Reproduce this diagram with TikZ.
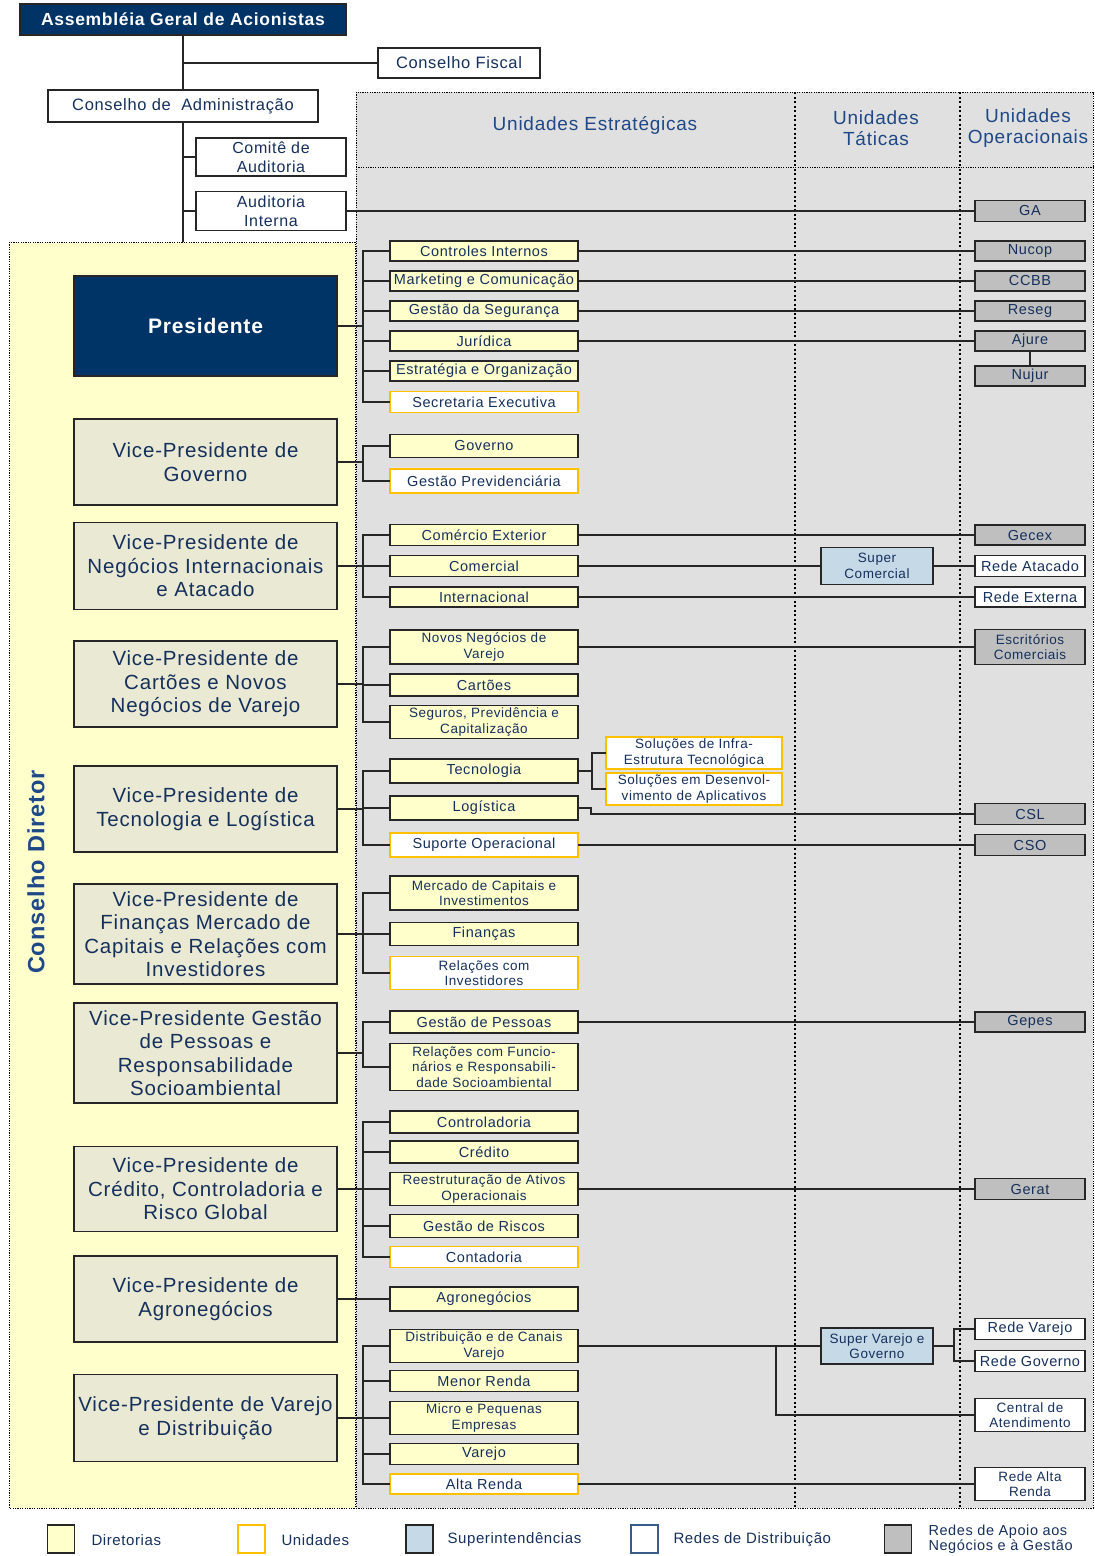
\documentclass[tikz,border=0pt]{standalone}
\usepackage{fontspec}
\setmainfont{Liberation Sans}[LetterSpace=4]
\definecolor{navy}{RGB}{0,51,102}
\definecolor{txtblue}{RGB}{22,48,92}
\definecolor{hdrblue}{RGB}{31,72,135}
\definecolor{dirfill}{RGB}{255,255,204}
\definecolor{regiongray}{RGB}{224,224,224}
\definecolor{vpfill}{RGB}{234,234,212}
\definecolor{unitorange}{RGB}{255,192,0}
\definecolor{superfill}{RGB}{197,217,230}
\definecolor{apoiogray}{RGB}{191,191,191}
\definecolor{edge}{RGB}{38,38,38}
\definecolor{redeblue}{RGB}{56,93,138}
\newcommand\setfs[2]{\fontsize{#1}{#2}\selectfont}
\begin{document}
\begin{tikzpicture}[x=1pt,y=-1pt,
  box/.style={draw=edge, line width=1.6pt, inner sep=0pt, outer sep=0pt, text=txtblue, align=center},
  plainbox/.style={box, fill=white, line width=1.4pt, font=\setfs{16.5}{19}},
  navybox/.style={box, fill=navy, text=white, line width=1.3pt},
  diret/.style={box, fill=dirfill, minimum width=188pt, font=\setfs{14.5}{16}},
  diret2/.style={diret, font=\setfs{13.5}{15.5}},
  unid/.style={diret, draw=unitorange, fill=white},
  unid2/.style={unid, font=\setfs{13.5}{15.5}},
  vpbox/.style={box, line width=1.3pt, fill=vpfill, minimum width=263pt, font=\setfs{20.5}{23.5}},
  apoio/.style={box, fill=apoiogray, minimum width=110pt, font=\setfs{14.5}{16}},
  apoio2/.style={apoio, font=\setfs{13.5}{15.5}},
  rede/.style={box, fill=white, minimum width=110pt, font=\setfs{14.5}{16}},
  rede2/.style={rede, font=\setfs{13.5}{15.5}},
  superbox/.style={box, fill=superfill, minimum width=112pt, font=\setfs{13.5}{15.5}},
  solbox/.style={unid, minimum width=176pt, font=\setfs{13.5}{15.5}},
  link/.style={draw=edge, line width=1.5pt},
  regionborder/.style={draw=black, line width=0.9pt, dash pattern=on 1.2pt off 1.2pt},
  colsep/.style={draw=black, line width=1.4pt, dash pattern=on 2pt off 2.5pt},
  header/.style={text=hdrblue, align=center, font=\setfs{19}{21}},
  legbox/.style={draw=edge, line width=1.8pt, minimum width=27pt, minimum height=28pt, inner sep=0pt},
  legtext/.style={anchor=west, text=txtblue, align=left, font=\setfs{15}{16}}
]
\useasboundingbox (0,0) rectangle (1095,1556);

% regions: strategic / tactical / operational units and the executive board
\fill[regiongray] (356,92) rectangle (1093,1508);
\fill[dirfill] (9,242) rectangle (355,1508);
\draw[regionborder] (356,92) rectangle (1093,1508);
\draw[regionborder] (9,242) rectangle (355,1508);
\draw[regionborder] (356,167) -- (1093,167);
\draw[colsep] (795,92) -- (795,1508);
\draw[colsep] (960,92) -- (960,1508);

\node[header] (hest) at (595,125) {Unidades Estratégicas};
\node[header] (htat) at (876,128) {Unidades\\Táticas};
\node[header] (hope) at (1028,128) {Unidades\\Operacionais};
\node[rotate=90, text=hdrblue, font=\setfs{23.5}{26}\bfseries] (cdir) at (36,872) {Conselho Diretor};

% governance
\node[navybox, minimum width=326pt, minimum height=31pt, font=\setfs{17.5}{20}\bfseries] (agm) at (183,19.5) {Assembléia Geral de Acionistas};
\node[plainbox, minimum width=162pt, minimum height=30pt] (cfis) at (459,63) {Conselho Fiscal};
\node[plainbox, minimum width=270pt, minimum height=32pt] (cadm) at (183,106) {Conselho de\ \ Administração};
\node[plainbox, minimum width=150pt, minimum height=38pt, font=\setfs{16}{19}] (comite) at (271,157) {Comitê de\\Auditoria};
\node[plainbox, minimum width=150pt, minimum height=39pt, font=\setfs{16}{19}] (audint) at (271,211) {Auditoria\\Interna};
\coordinate (dtop) at (183,242);

% presidency and vice-presidencies
\node[navybox, minimum width=263pt, minimum height=100pt, font=\setfs{21}{24}\bfseries] (pres) at (205.5,326) {Presidente};
\node[vpbox, minimum height=86pt] (vpgov) at (205.5,462) {Vice-Presidente de\\Governo};
\node[vpbox, minimum height=87pt] (vpint) at (205.5,566) {Vice-Presidente de\\Negócios Internacionais\\e Atacado};
\node[vpbox, minimum height=86pt] (vpcart) at (205.5,684) {Vice-Presidente de\\Cartões e Novos\\Negócios de Varejo};
\node[vpbox, minimum height=86pt] (vptec) at (205.5,809) {Vice-Presidente de\\Tecnologia e Logística};
\node[vpbox, minimum height=100pt] (vpfin) at (205.5,934) {Vice-Presidente de\\Finanças Mercado de\\Capitais e Relações com\\Investidores};
\node[vpbox, minimum height=100pt] (vpgp) at (205.5,1053) {Vice-Presidente Gestão\\de Pessoas e\\Responsabilidade\\Socioambiental};
\node[vpbox, minimum height=85pt] (vpcred) at (205.5,1189) {Vice-Presidente de\\Crédito, Controladoria e\\Risco Global};
\node[vpbox, minimum height=86pt] (vpagro) at (205.5,1299) {Vice-Presidente de\\Agronegócios};
\node[vpbox, minimum height=87pt] (vpvar) at (205.5,1418) {Vice-Presidente de Varejo\\e Distribuição};

% strategic units
\node[diret, minimum height=20pt] (ci) at (484,251) {Controles Internos};
\node[diret, minimum height=20pt] (mk) at (484,281) {Marketing e Comunicação};
\node[diret, minimum height=20pt] (gs) at (484,311) {Gestão da Segurança};
\node[diret, minimum height=20pt] (jur) at (484,341) {Jurídica};
\node[diret, minimum height=20pt] (eo) at (484,371) {Estratégia e Organização};
\node[unid, minimum height=21pt] (sec) at (484,402) {Secretaria Executiva};

\node[diret, minimum height=23pt] (gov) at (484,446) {Governo};
\node[unid, minimum height=24pt] (gprev) at (484,481) {Gestão Previdenciária};

\node[diret, minimum height=21pt] (comex) at (484,535) {Comércio Exterior};
\node[diret, minimum height=21pt] (com) at (484,566) {Comercial};
\node[diret, minimum height=20pt] (intl) at (484,597) {Internacional};

\node[diret2, minimum height=34pt] (nnv) at (484,647) {Novos Negócios de\\Varejo};
\node[diret, minimum height=22pt] (cart) at (484,685) {Cartões};
\node[diret2, minimum height=33pt] (seg) at (484,722) {Seguros, Previdência e\\Capitalização};

\node[diret, minimum height=24pt] (tec) at (484,771) {Tecnologia};
\node[diret, minimum height=24pt] (logi) at (484,808) {Logística};
\node[unid, minimum height=24pt] (supop) at (484,845) {Suporte Operacional};
\node[solbox, minimum height=32pt] (sol1) at (694,753) {Soluções de Infra-\\Estrutura Tecnológica};
\node[solbox, minimum height=32pt] (sol2) at (694,789) {Soluções em Desenvol-\\vimento de Aplicativos};

\node[diret2, minimum height=34pt] (mcap) at (484,893) {Mercado de Capitais e\\Investimentos};
\node[diret, minimum height=23pt] (fin) at (484,934) {Finanças};
\node[unid2, minimum height=33pt] (rinv) at (484,973) {Relações com\\Investidores};

\node[diret, minimum height=22pt] (gpes) at (484,1022) {Gestão de Pessoas};
\node[diret2, minimum height=47pt] (rfunc) at (484,1067) {Relações com Funcio-\\nários e Responsabili-\\dade Socioambiental};

\node[diret, minimum height=22pt] (ctrl) at (484,1122) {Controladoria};
\node[diret, minimum height=22pt] (cred) at (484,1152) {Crédito};
\node[diret2, minimum height=33pt] (reat) at (484,1189) {Reestruturação de Ativos\\Operacionais};
\node[diret, minimum height=23pt] (grisc) at (484,1226) {Gestão de Riscos};
\node[unid, minimum height=21pt] (cont) at (484,1257) {Contadoria};

\node[diret, minimum height=24pt] (agro) at (484,1299) {Agronegócios};

\node[diret2, minimum height=33pt] (dist) at (484,1346) {Distribuição e de Canais\\Varejo};
\node[diret, minimum height=21pt] (menor) at (484,1381) {Menor Renda};
\node[diret2, minimum height=33pt] (micro) at (484,1418) {Micro e Pequenas\\Empresas};
\node[diret, minimum height=21pt] (var) at (484,1454) {Varejo};
\node[unid, minimum height=20pt] (alta) at (484,1484) {Alta Renda};

% tactical units
\node[superbox, minimum height=37pt] (scom) at (877,566) {Super\\Comercial};
\node[superbox, minimum height=36pt] (svg) at (877,1346) {Super Varejo e\\Governo};

% operational units
\node[apoio, minimum height=21pt] (ga) at (1030,211) {GA};
\node[apoio, minimum height=20pt] (nucop) at (1030,251) {Nucop};
\node[apoio, minimum height=20pt] (ccbb) at (1030,281) {CCBB};
\node[apoio, minimum height=20pt] (reseg) at (1030,311) {Reseg};
\node[apoio, minimum height=20pt] (ajure) at (1030,341) {Ajure};
\node[apoio, minimum height=20pt] (nujur) at (1030,376) {Nujur};
\node[apoio, minimum height=20pt] (gecex) at (1030,535) {Gecex};
\node[rede, minimum height=21pt] (ratac) at (1030,566) {Rede Atacado};
\node[rede, minimum height=20pt] (rext) at (1030,597) {Rede Externa};
\node[apoio2, minimum height=35pt] (escr) at (1030,647) {Escritórios\\Comerciais};
\node[apoio, minimum height=21pt] (csl) at (1030,814) {CSL};
\node[apoio, minimum height=21pt] (cso) at (1030,845) {CSO};
\node[apoio, minimum height=20pt] (gepes) at (1030,1022) {Gepes};
\node[apoio, minimum height=21pt] (gerat) at (1030,1189) {Gerat};
\node[rede, minimum height=21pt] (rvar) at (1030,1329) {Rede Varejo};
\node[rede, minimum height=21pt] (rgov) at (1030,1361) {Rede Governo};
\node[rede2, minimum height=33pt] (cent) at (1030,1415) {Central de\\Atendimento};
\node[rede2, minimum height=33pt] (ralta) at (1030,1484) {Rede Alta\\Renda};

% governance connectors
\draw[link] (agm.south) -- (cadm.north);
\draw[link] (agm.south |- cfis.west) -- (cfis.west);
\draw[link] (cadm.south) -- (dtop);
\draw[link] (cadm.south |- comite.west) -- (comite.west);
\draw[link] (cadm.south |- audint.west) -- (audint.west);
\draw[link] (audint.east) -- (ga.west);

% vice-presidency brackets
\foreach \vp in {pres,vpgov,vpint,vpcart,vptec,vpfin,vpgp,vpcred,vpvar}
  \draw[link] (\vp.east) -- ++(26,0);
\draw[link] (vpagro.east) -- (agro.west);
\foreach \a/\b in {ci/sec, gov/gprev, comex/intl, nnv/seg, tec/supop, mcap/rinv, gpes/rfunc, ctrl/cont, dist/alta}
  \draw[link] (\a.west) -- ++(-27,0) |- (\b.west);
\foreach \m in {mk,gs,jur,eo,com,cart,logi,fin,cred,reat,grisc,menor,micro,var}
  \draw[link] (\m.west) -- ++(-27,0);

% strategic to tactical / operational
\draw[link] (ci.east) -- (nucop.west);
\draw[link] (mk.east) -- (ccbb.west);
\draw[link] (gs.east) -- (reseg.west);
\draw[link] (jur.east) -- (ajure.west);
\draw[link] (ajure.south) -- (nujur.north);
\draw[link] (comex.east) -- (gecex.west);
\draw[link] (com.east) -- (scom.west);
\draw[link] (scom.east) -- (ratac.west);
\draw[link] (intl.east) -- (rext.west);
\draw[link] (nnv.east) -- (escr.west);
\draw[link] (tec.east) -- ++(14,0);
\draw[link] (sol1.west) -- ++(-14,0) |- (sol2.west);
\draw[link] (logi.east) -- ++(13,0) |- (csl.west);
\draw[link] (supop.east) -- (cso.west);
\draw[link] (gpes.east) -- (gepes.west);
\draw[link] (reat.east) -- (gerat.west);
\draw[link] (dist.east) -- (svg.west);
\coordinate (jv) at (776,1346);
\draw[link] (jv) |- (cent.west);
\draw[link] (svg.east) -- ++(21,0);
\draw[link] (rvar.west) -- ++(-21,0) |- (rgov.west);
\draw[link] (alta.east) -- (ralta.west);

% legend
\node[legbox, fill=dirfill] (lg1) at (61,1539) {};
\node[legtext] (lt1) at (88,1540) {Diretorias};
\node[legbox, fill=white, draw=unitorange] (lg2) at (251.5,1539) {};
\node[legtext] (lt2) at (278,1540) {Unidades};
\node[legbox, fill=superfill] (lg3) at (419.5,1539) {};
\node[legtext] (lt3) at (444,1540) {Superintendências};
\node[legbox, fill=white, draw=redeblue] (lg4) at (644.5,1539) {};
\node[legtext] (lt4) at (670,1540) {Redes de Distribuição};
\node[legbox, fill=apoiogray] (lg5) at (898,1539) {};
\node[legtext, font=\setfs{14.5}{15.5}] (lt5) at (925,1539) {Redes de Apoio aos\\Negócios e à Gestão};
\end{tikzpicture}
\end{document}
